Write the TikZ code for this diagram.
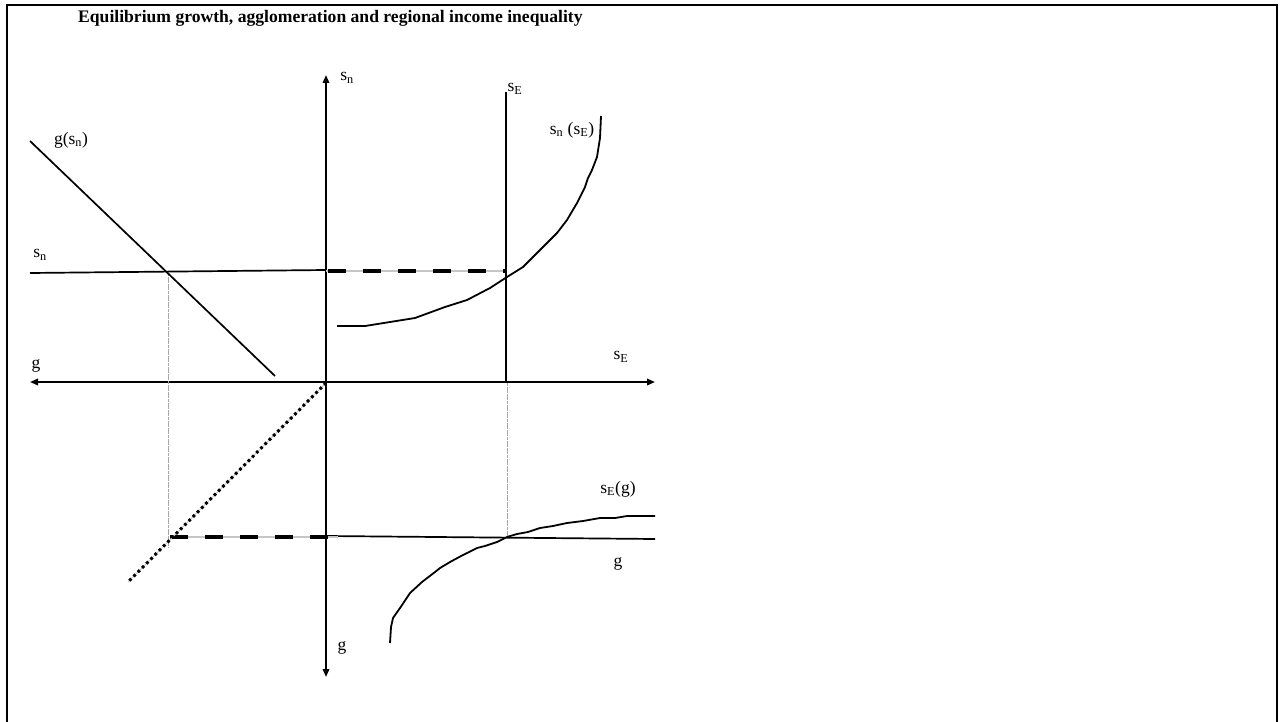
\documentclass[tikz,border=0pt]{standalone}
\usepackage{fontspec}
\setmainfont{Liberation Serif}
\usetikzlibrary{arrows.meta}
\begin{document}
\begin{tikzpicture}[x=1pt,y=-1pt,
  axis/.style={line width=1.8pt,-{Triangle[length=8pt,width=6.5pt]}},
  curve/.style={line width=1.8pt,line join=round},
  thin line/.style={line width=1.7pt},
  guide/.style={line width=0.8pt,gray!70,dash pattern=on 3pt off 0.6pt},
  bigdash/.style={line width=3.2pt,dash pattern=on 18pt off 17pt},
  graybase/.style={line width=1.1pt,gray!45},
  dotline/.style={line width=3pt,dash pattern=on 2.8pt off 3.2pt},
  lab/.style={inner sep=0pt,font=\fontsize{17.5}{20}\selectfont},
]
\useasboundingbox (0,0) rectangle (1281,722);
% frame
\draw[line width=1.8pt] (7,722) -- (7,5) -- (1277,5) -- (1277,722);
\node[inner sep=0pt,anchor=west,font=\bfseries\fontsize{17.6}{20}\selectfont] (title) at (78,18) {Equilibrium growth, agglomeration and regional income inequality};

% coordinates
\coordinate (O) at (326,382);
\coordinate (ytop) at (326,75);
\coordinate (ybot) at (326,677);
\coordinate (xleft) at (30,382);
\coordinate (xright) at (655,382);
\coordinate (gsA) at (30,141);
\coordinate (gsB) at (275,376);
\coordinate (snL) at (30,273);
\coordinate (snR) at (326,270);
\coordinate (sEt) at (506,92);
\coordinate (sEb) at (506,382);
\coordinate (dA) at (326,271);
\coordinate (dB) at (506,271);
\coordinate (vlT) at (168,273);
\coordinate (vlB) at (168,547);
\coordinate (vrT) at (507,383);
\coordinate (vrB) at (507,537);
\coordinate (diagA) at (326,383);
\coordinate (diagB) at (128,582);
\coordinate (ldA) at (170,537);
\coordinate (ldB) at (338,537);
\coordinate (gL) at (327,536);
\coordinate (gR) at (655,539);

% axes
\draw[axis] (O) -- (ytop);
\draw[axis] (O) -- (ybot);
\draw[axis] (O) -- (xleft);
\draw[axis] (O) -- (xright);

% guides
\draw[guide] (vlT) -- (vlB);
\draw[guide] (vrT) -- (vrB);

% lines
\draw[thin line] (gsA) -- (gsB);
\draw[thin line] (snL) -- (snR);
\draw[thin line] (sEt) -- (sEb);
\draw[thin line] (gL) -- (gR);

% dashed connectors
\draw[graybase] (dA) -- (dB);
\draw[bigdash] ([xshift=2pt]dA) -- (dB);
\draw[graybase] (ldA) -- (ldB);
\draw[bigdash] (ldA) -- (ldB);
\draw[graybase,line width=0.8pt] (diagA) -- (diagB);
\draw[dotline] (diagA) -- (diagB);

% curve s_n(s_E)
\draw[curve] (337,326) -- (365,326) -- (415,318) -- (445,307) -- (467,300) -- (490,288) -- (507,277) -- (523,267) -- (530,260) -- (543,247) -- (557,233) -- (567,220) -- (577,203) -- (585,187) -- (588,178) -- (592,170) -- (597,157) -- (600,138) -- (601,116);

% curve s_E(g)
\draw[curve] (390,643) -- (391,627) -- (393,618) -- (400,608) -- (410,593) -- (422,582) -- (435,572) -- (440,568) -- (450,562) -- (463,555) -- (477,548) -- (485,546) -- (497,542) -- (507,537) -- (517,534) -- (528,532) -- (540,528) -- (553,526) -- (567,523) -- (583,521) -- (600,518) -- (615,518) -- (627,516) -- (655,516);

% labels
\node[lab] (lsnTop) at (347,78) {s\textsubscript{n}};
\node[lab] (lsETop) at (515,89) {s\textsubscript{E}};
\node[lab] (lsnsE) at (572,130) {s\textsubscript{n} (s\textsubscript{E})};
\node[lab] (lgsn) at (71,140) {g(s\textsubscript{n})};
\node[lab] (lsnL) at (40,255) {s\textsubscript{n}};
\node[lab] (lgL) at (36,366) {g};
\node[lab] (lsER) at (621,357) {s\textsubscript{E}};
\node[lab] (lsEg) at (618,489) {s\textsubscript{E}(g)};
\node[lab] (lgR) at (618,564) {g};
\node[lab] (lgB) at (342,648) {g};
\end{tikzpicture}
\end{document}
